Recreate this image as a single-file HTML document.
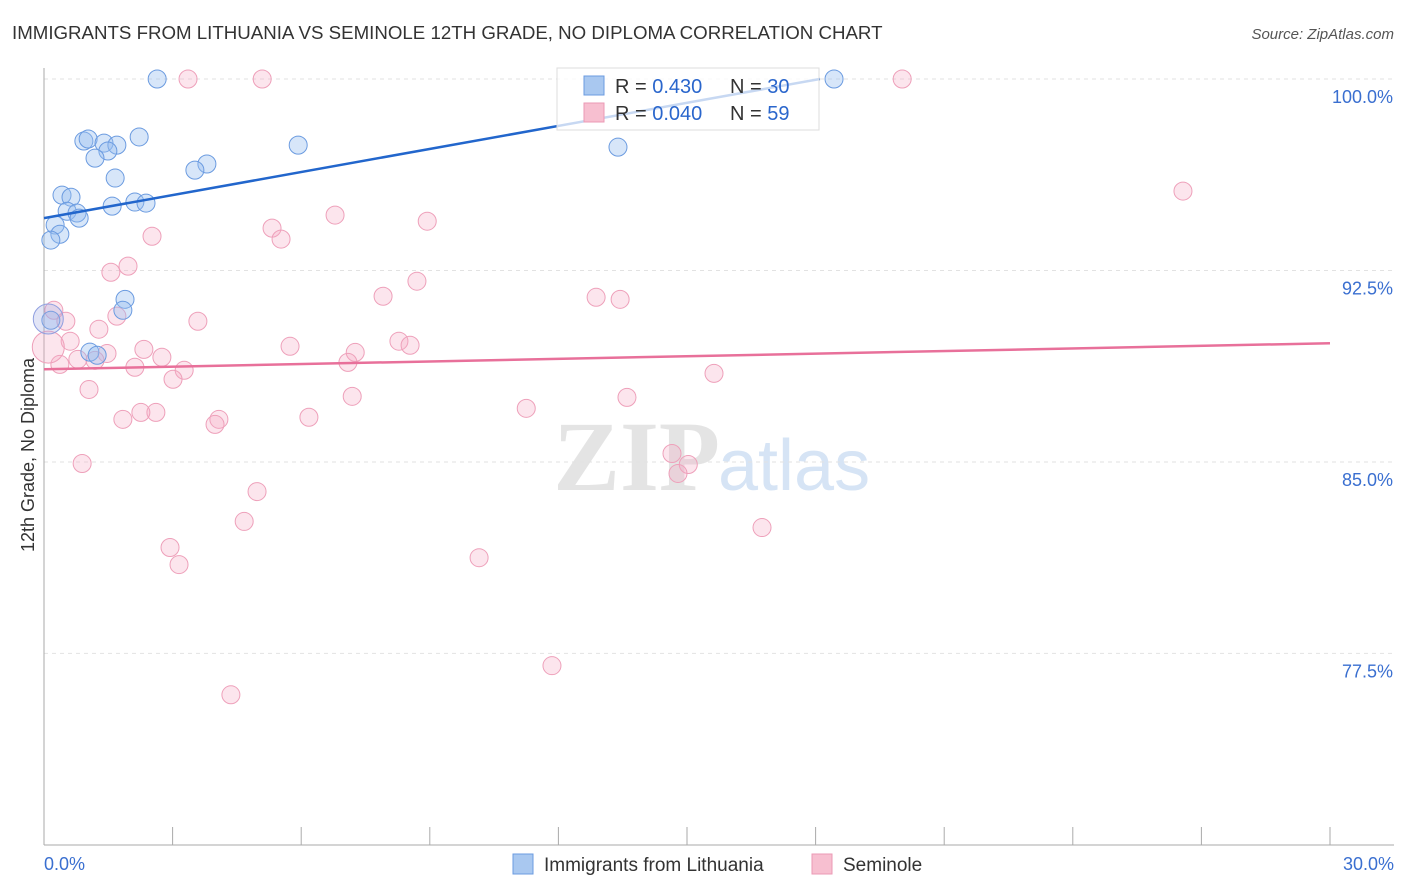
<!DOCTYPE html>
<html><head><meta charset="utf-8"><style>
body{margin:0;background:#fff;font-family:"Liberation Sans",sans-serif;}
#wrap{position:relative;width:1406px;height:892px;overflow:hidden;}
</style></head><body>
<div id="wrap">
<svg id="svg" width="1406" height="892">
<text x="12" y="39" font-size="18.7" fill="#333">IMMIGRANTS FROM LITHUANIA VS SEMINOLE 12TH GRADE, NO DIPLOMA CORRELATION CHART</text>
<text x="1394" y="39" font-size="15" fill="#555" font-style="italic" text-anchor="end">Source: ZipAtlas.com</text>
<text x="720" y="490" font-size="100" fill="#e4e4e4" text-anchor="end" font-family="Liberation Serif" font-weight="bold">ZIP</text>
<text x="718" y="490" font-size="72" fill="#d6e4f5">atlas</text>
<text transform="translate(34,455) rotate(-90)" font-size="18" fill="#333" text-anchor="middle">12th Grade, No Diploma</text>
<text x="44" y="870" font-size="18" fill="#3a6fd0">0.0%</text>
<text x="1394" y="870" font-size="18" fill="#3a6fd0" text-anchor="end">30.0%</text>
</svg>
</div>
<script>
const yTicks=[100,92.5,85,77.5];
const yTickLabels=["100.0%","92.5%","85.0%","77.5%"];
const blueX=[2.64,18.43,0.93,1.03,1.40,1.70,1.49,1.19,2.22,5.93,13.39,3.80,3.52,1.66,0.42,0.63,1.59,2.12,2.38,0.54,0.77,0.82,0.26,0.37,0.16,1.89,1.84,0.16,1.07,1.24];
const blueY=[100,100,97.57,97.65,97.49,97.41,97.18,96.90,97.73,97.41,97.33,96.67,96.43,96.12,95.45,95.37,95.02,95.18,95.14,94.82,94.75,94.55,94.28,93.92,93.69,91.37,90.94,90.55,89.30,89.18];
const pinkX=[3.36,5.09,20.02,26.57,6.79,8.94,5.32,5.53,2.52,1.96,1.56,8.70,7.91,12.88,13.44,0.23,3.59,0.51,1.70,1.28,0.61,5.74,8.28,8.54,2.33,7.26,2.75,1.47,0.79,1.19,0.37,7.09,2.12,3.27,3.01,15.63,1.05,7.19,13.60,11.25,2.61,2.26,1.84,4.08,3.99,6.18,0.89,14.65,15.03,14.79,4.97,4.67,16.75,2.94,3.15,10.15,11.85,4.36,0.1];
const pinkY=[100,100,100,95.61,94.67,94.43,94.16,93.73,93.84,92.67,92.43,92.08,91.49,91.45,91.37,90.94,90.51,90.51,90.71,90.20,89.73,89.53,89.73,89.57,89.41,89.29,89.10,89.25,89.02,88.98,88.82,88.90,88.71,88.59,88.24,88.47,87.84,87.57,87.53,87.10,86.94,86.94,86.67,86.67,86.47,86.75,84.94,85.33,84.90,84.55,83.84,82.67,82.43,81.65,80.98,81.25,77.02,75.88,89.5];
const blueTrend=[[0,94.55],[18.1,100]];
const pinkTrend=[[0,88.63],[30,89.65]];
const NS="http://www.w3.org/2000/svg";
const svg=document.getElementById('svg');
const X=v=>44+v/30*1286;
const Y=v=>79+(100-v)*25.53;
function mk(t,a){const e=document.createElementNS(NS,t);for(const k in a)e.setAttribute(k,a[k]);svg.appendChild(e);return e;}
yTicks.forEach((t,i)=>{
 let g=mk('line',{x1:44,x2:1394,y1:Y(t),y2:Y(t),stroke:'#e2e2e2','stroke-dasharray':'4,4'});
 
 
 let l=mk('text',{x:1393,y:Y(t)+24,'font-size':18,fill:'#3a6fd0','text-anchor':'end'});
 l.textContent=yTickLabels[i];
 
 
});
let ax=mk('line',{x1:44,x2:44,y1:68,y2:845,stroke:'#aaa'});


let bx=mk('line',{x1:44,x2:1394,y1:845,y2:845,stroke:'#aaa'});


for(let i=0;i<=10;i++){
 let t=mk('line',{x1:X(i*3),x2:X(i*3),y1:827,y2:845,stroke:'#aaa'});
 
 
}
pinkX.forEach((x,i)=>{
 const big=i===pinkX.length-1;
 let c=mk('circle',{cx:X(x),cy:Y(pinkY[i]),r:big?16:9,fill:'rgba(244,170,196,0.3)',stroke:'#eea0ba','stroke-width':1});
 
 
});
blueX.forEach((x,i)=>{
 let c=mk('circle',{cx:X(x),cy:Y(blueY[i]),r:9,fill:'rgba(150,188,238,0.38)',stroke:'#6b9be0','stroke-width':1});
 
 
});
let bc=mk('circle',{cx:X(0.1),cy:Y(90.6),r:15,fill:'rgba(160,170,225,0.3)',stroke:'#8f9fe0','stroke-width':1});


let tb=mk('line',{x1:X(blueTrend[0][0]),y1:Y(blueTrend[0][1]),x2:X(blueTrend[1][0]),y2:Y(blueTrend[1][1]),stroke:'#2266cc','stroke-width':2.5});


let tp=mk('line',{x1:X(pinkTrend[0][0]),y1:Y(pinkTrend[0][1]),x2:X(pinkTrend[1][0]),y2:Y(pinkTrend[1][1]),stroke:'#e8709a','stroke-width':2.5});


let lb=mk('rect',{x:557,y:68,width:262,height:62,fill:'rgba(255,255,255,0.75)',stroke:'#ddd'});


[[0,'#a9c8f0','#6b9be0','0.430','30'],[1,'#f7bfd0','#eb9ab5','0.040','59']].forEach(r=>{
 const y=76+r[0]*27;
 let s=mk('rect',{x:584,y:y,width:20,height:19,fill:r[1],stroke:r[2]});
 
 
 let t=mk('text',{x:615,y:y+17,'font-size':20,fill:'#333'});
 t.innerHTML='R = <tspan fill="#2a66cc">'+r[3]+'</tspan><tspan x="730">N = </tspan><tspan fill="#2a66cc">'+r[4]+'</tspan>';
 
 
});
[[513,'#a9c8f0','#6b9be0','Immigrants from Lithuania'],[812,'#f7bfd0','#eb9ab5','Seminole']].forEach(r=>{
 let s=mk('rect',{x:r[0],y:854,width:20,height:20,fill:r[1],stroke:r[2]});
 
 
 let t=mk('text',{x:r[0]+31,y:871,'font-size':19,fill:'#333'});
 t.textContent=r[3];
 
 
});
</script>
</body></html>
